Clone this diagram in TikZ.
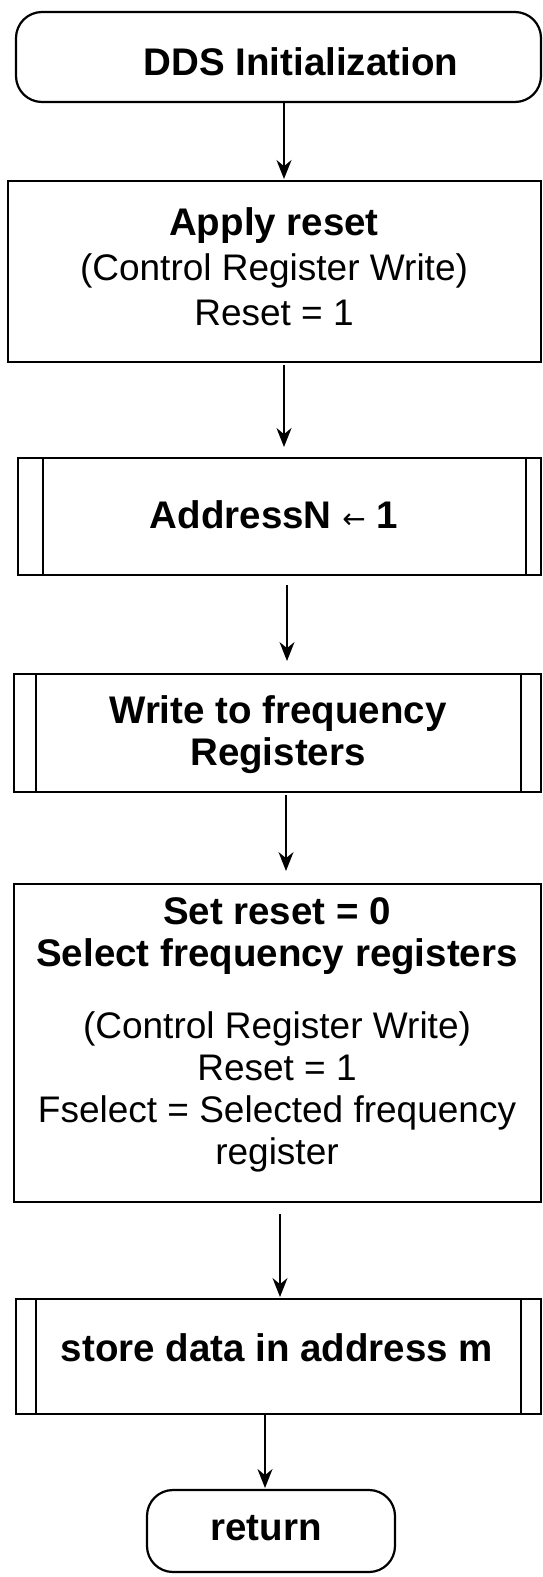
\documentclass[tikz,border=0pt]{standalone}
\usepackage{fontspec}
\setmainfont{Liberation Sans}
\newfontfamily\arrowfont{DejaVu Sans}
\usetikzlibrary{arrows.meta}
\begin{document}
\begin{tikzpicture}[x=1pt,y=-1pt,
  every node/.style={inner sep=0pt, outer sep=0pt},
  boxline/.style={draw=black, line width=2.2pt},
  term/.style={boxline, rounded corners=26pt},
  proc/.style={boxline},
  txt/.style={align=center, font=\fontsize{37}{45}\selectfont},
  bold/.style={align=center, font=\fontsize{38.5}{42}\selectfont\bfseries},
  flow/.style={line width=2pt, -{Stealth[length=19pt,width=15pt]}},
  thinflow/.style={flow, line width=1.3pt}]
\useasboundingbox (0,0) rectangle (543,1577);

% shapes
\node[term, minimum width=525pt, minimum height=90pt] (start) at (278.5,57) {};
\node[proc, minimum width=533pt, minimum height=181pt] (b1) at (274.5,271.5) {};
\node[proc, minimum width=523pt, minimum height=117pt] (b2) at (279.5,516.5) {};
\node[proc, minimum width=527pt, minimum height=118pt] (b3) at (277.5,733) {};
\node[proc, minimum width=527pt, minimum height=318pt] (b4) at (277.5,1043) {};
\node[proc, minimum width=525pt, minimum height=115pt] (b5) at (278.5,1356.5) {};
\node[term, minimum width=248pt, minimum height=82pt] (ret) at (271,1531) {};

% inner bars of predefined-process boxes
\draw[boxline] ([xshift=25pt]b2.north west) -- ([xshift=25pt]b2.south west);
\draw[boxline] ([xshift=-15pt]b2.north east) -- ([xshift=-15pt]b2.south east);
\draw[boxline] ([xshift=22pt]b3.north west) -- ([xshift=22pt]b3.south west);
\draw[boxline] ([xshift=-20pt]b3.north east) -- ([xshift=-20pt]b3.south east);
\draw[boxline] ([xshift=20pt]b5.north west) -- ([xshift=20pt]b5.south west);
\draw[boxline] ([xshift=-20pt]b5.north east) -- ([xshift=-20pt]b5.south east);

% texts
\node[bold] (tstart) at (301,62) {DDS Initialization};
\node[txt] (t1) at (274,267) {\bfseries\fontsize{38.5}{45}\selectfont Apply reset\\ (Control Register Write)\\ Reset = 1};
\node[bold] (t2) at (274,515) {AddressN {\mdseries\arrowfont\fontsize{28}{34}\selectfont ←} 1};
\node[bold] (t3) at (278,735) {Write to frequency\\ Registers};
\node[align=center, font=\fontsize{37}{42}\selectfont] (t4) at (277,1035)
  {\bfseries\fontsize{38.5}{42}\selectfont Set reset = 0\\ \bfseries\fontsize{38.5}{42}\selectfont Select frequency registers\\[30pt] (Control Register Write)\\ Reset = 1\\ Fselect = Selected frequency\\ register};
\node[bold] (t5) at (277,1348) {store data in address m};
\node[bold] (tret) at (266,1528) {return};

% connectors
\draw[flow, shorten >=2pt] ([xshift=5.5pt]start.south) -- ([xshift=9.5pt]b1.north);
\draw[flow, shorten <=3pt, shorten >=11pt] ([xshift=9.5pt]b1.south) -- ([xshift=4.5pt]b2.north);
\draw[thinflow, shorten <=10pt, shorten >=13pt] ([xshift=7.5pt]b2.south) -- ([xshift=9.5pt]b3.north);
\draw[thinflow, shorten <=3pt, shorten >=13pt] ([xshift=8.5pt]b3.south) -- ([xshift=8.5pt]b4.north);
\draw[thinflow, shorten <=12pt, shorten >=2pt] ([xshift=2.5pt]b4.south) -- ([xshift=1.5pt]b5.north);
\draw[flow, shorten >=2pt] ([xshift=-13.5pt]b5.south) -- ([xshift=-6pt]ret.north);
\end{tikzpicture}
\end{document}
